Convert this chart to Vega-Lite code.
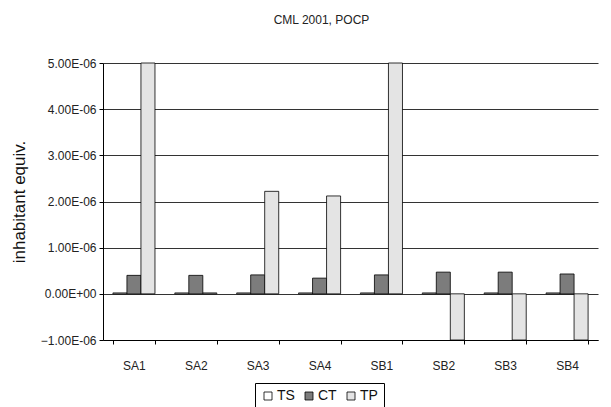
{
  "$schema": "https://vega.github.io/schema/vega-lite/v6.json",
  "width": 495,
  "height": 277,
  "autosize": {"type": "none"},
  "padding": {"left": 103, "top": 63, "right": 13, "bottom": 67},
  "background": "white",
  "title": {
    "text": "CML 2001, POCP",
    "fontSize": 12,
    "font": "Liberation Sans",
    "fontWeight": "normal",
    "color": "#222",
    "anchor": "middle",
    "dx": -29,
    "offset": 30
  },
  "data": {
    "values": [
      {"site": "SA1", "series": "TS", "value": 2e-8},
      {"site": "SA1", "series": "CT", "value": 4.0e-7},
      {"site": "SA1", "series": "TP", "value": 5.0e-6},
      {"site": "SA2", "series": "TS", "value": 2e-8},
      {"site": "SA2", "series": "CT", "value": 4.0e-7},
      {"site": "SA2", "series": "TP", "value": 2e-8},
      {"site": "SA3", "series": "TS", "value": 2e-8},
      {"site": "SA3", "series": "CT", "value": 4.1e-7},
      {"site": "SA3", "series": "TP", "value": 2.22e-6},
      {"site": "SA4", "series": "TS", "value": 2e-8},
      {"site": "SA4", "series": "CT", "value": 3.4e-7},
      {"site": "SA4", "series": "TP", "value": 2.12e-6},
      {"site": "SB1", "series": "TS", "value": 2e-8},
      {"site": "SB1", "series": "CT", "value": 4.1e-7},
      {"site": "SB1", "series": "TP", "value": 5.0e-6},
      {"site": "SB2", "series": "TS", "value": 2e-8},
      {"site": "SB2", "series": "CT", "value": 4.7e-7},
      {"site": "SB2", "series": "TP", "value": -1.0e-6},
      {"site": "SB3", "series": "TS", "value": 2e-8},
      {"site": "SB3", "series": "CT", "value": 4.7e-7},
      {"site": "SB3", "series": "TP", "value": -1.0e-6},
      {"site": "SB4", "series": "TS", "value": 2e-8},
      {"site": "SB4", "series": "CT", "value": 4.3e-7},
      {"site": "SB4", "series": "TP", "value": -1.0e-6}
    ]
  },
  "mark": {"type": "bar", "stroke": "black", "strokeWidth": 0.8},
  "encoding": {
    "x": {
      "field": "site",
      "type": "nominal",
      "sort": null,
      "title": null,
      "scale": {"paddingInner": 0.32, "paddingOuter": 0.16},
      "axis": {
        "labelAngle": 0,
        "labelFont": "Liberation Sans",
        "labelFontSize": 12,
        "labelColor": "#222",
        "labelPadding": 16,
        "tickBand": "extent",
        "tickColor": "black",
        "tickSize": 4,
        "domainColor": "black",
        "domainWidth": 1,
        "grid": false
      }
    },
    "xOffset": {"field": "series", "type": "nominal", "sort": ["TS", "CT", "TP"]},
    "y": {
      "field": "value",
      "type": "quantitative",
      "title": "inhabitant equiv.",
      "scale": {"domain": [-1e-6, 5e-6], "nice": false},
      "axis": {
        "values": [-1e-6, 0, 1e-6, 2e-6, 3e-6, 4e-6, 5e-6],
        "labelExpr": "datum.value == 0 ? '0.00E+00' : format(datum.value * 1e6, '.2f') + 'E-06'",
        "labelFont": "Liberation Sans",
        "labelFontSize": 12,
        "labelColor": "#222",
        "labelPadding": 3,
        "tickColor": "black",
        "tickSize": 4,
        "domainColor": "black",
        "domainWidth": 1,
        "gridColor": "#333",
        "gridWidth": 1,
        "gridOpacity": 1,
        "titleFont": "Liberation Sans",
        "titleFontSize": 17,
        "titleFontWeight": "normal",
        "titleColor": "#111",
        "titlePadding": 12
      }
    },
    "fill": {
      "field": "series",
      "type": "nominal",
      "sort": ["TS", "CT", "TP"],
      "scale": {"domain": ["TS", "CT", "TP"], "range": ["#ffffff", "#7c7c7c", "#e4e4e4"]},
      "legend": {
        "title": null,
        "orient": "none",
        "legendX": 152,
        "legendY": 320,
        "direction": "horizontal",
        "symbolType": "square",
        "symbolSize": 64,
        "symbolStrokeColor": "black",
        "symbolStrokeWidth": 0.8,
        "labelFont": "Liberation Sans",
        "labelFontSize": 14,
        "labelColor": "#111",
        "labelOffset": 2,
        "columnPadding": 7,
        "padding": 6,
        "strokeColor": "black",
        "fillColor": "white"
      }
    }
  },
  "config": {"view": {"stroke": null}}
}
